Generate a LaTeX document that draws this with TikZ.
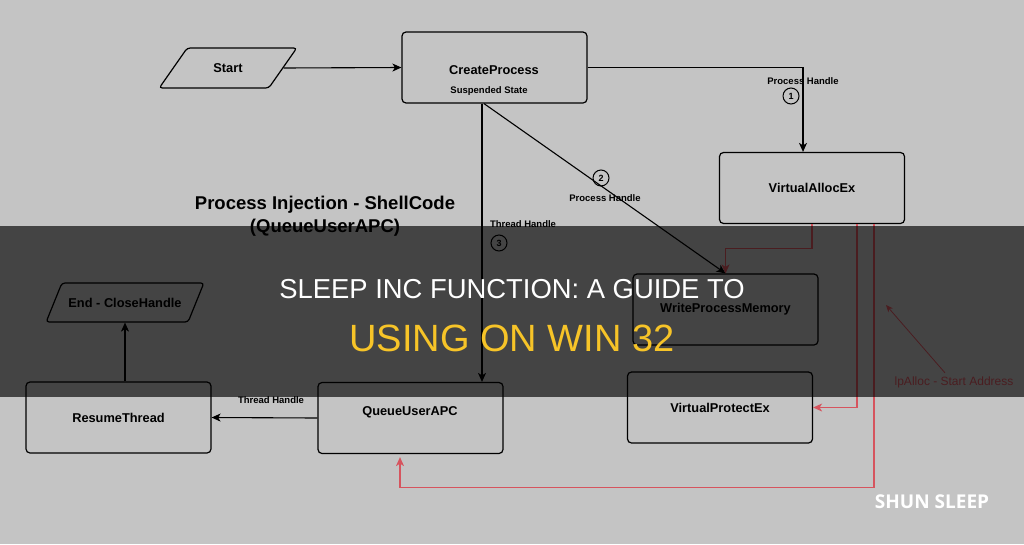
\documentclass[tikz,border=0pt]{standalone}
\usepackage{fontspec}
\setmainfont{Liberation Sans}
\newfontfamily\wmfont{Open Sans}
\usepackage{tikz}
\usetikzlibrary{shapes.geometric,arrows.meta}
\tikzset{>={Stealth[length=9pt,width=8pt,inset=2.5pt]}}
\definecolor{bggray}{RGB}{196,196,196}
\definecolor{lnred}{RGB}{214,84,94}
\definecolor{ttlyellow}{RGB}{247,196,40}
\tikzset{
  boxtext/.style={font=\fontsize{12.8}{15}\selectfont\bfseries},
  fbox/.style={draw, line width=1.2pt, rounded corners=4pt, minimum width=185pt,
    minimum height=71pt, boxtext},
  io/.style={draw, line width=1.2pt, trapezium, trapezium stretches=true,
    rounded corners=3pt, boxtext},
  conn/.style={line width=1.1pt, ->},
  redconn/.style={lnred, line width=1.1pt, ->},
  hlabel/.style={font=\fontsize{9.5}{11}\selectfont\bfseries, inner sep=1pt},
  num/.style={circle, draw, line width=1pt, minimum size=16pt, inner sep=0pt,
    font=\fontsize{9}{10}\selectfont\bfseries},
}

\begin{document}
\begin{tikzpicture}[x=1pt,y=-1pt]
    \fill[bggray] (0,0) rectangle (1024,544);
    \useasboundingbox (0,0) rectangle (1024,544);

    \node[io, minimum width=138pt, minimum height=40pt, trapezium left angle=52,
      trapezium right angle=128] (start) at (228,68) {Start};
    \node[fbox] (cp) at (494.5,67.5) {};
    \node[boxtext] (cptxt) at (494,70) {CreateProcess};
    \node[hlabel] (cpsub) at (489,91) {Suspended State};
    \node[fbox] (vae) at (812,188) {VirtualAllocEx};
    \node[fbox] (wpm) at (725.5,309.5) {WriteProcessMemory};
    \node[fbox] (vpe) at (720,407.5) {VirtualProtectEx};
    \node[fbox] (qapc) at (410.5,418) {};
    \node[boxtext] (qapctxt) at (410,412) {QueueUserAPC};
    \node[fbox] (rt) at (118.5,417.5) {ResumeThread};
    \node[io, minimum width=158pt, minimum height=39pt, trapezium left angle=47,
      trapezium right angle=133] (end) at (125,302.5) {End - CloseHandle};

    \node[align=center, font=\fontsize{18.5}{23}\selectfont\bfseries] (ttl) at (325,216)
      {Process Injection - ShellCode\\(QueueUserAPC)};

    \draw[conn] (start.east) -- (cp.west);
    \draw[conn] (cp.east) -| ([xshift=-9pt]vae.north);
    \draw[conn] ([xshift=-10.5pt]cp.south) -- (wpm.north);
    \draw[conn] ([xshift=-12.5pt]cp.south) -- ([xshift=-12.5pt]cp.south |- qapc.north);
    \draw[conn] (qapc.west) -- (rt.east);
    \draw[conn] ([xshift=6.5pt]rt.north) -- ([xshift=6.5pt]rt.north |- end.south);

    \node[hlabel] (ph1) at (803,81) {Process Handle};
    \node[num] (n1) at (791,96) {1};
    \node[num] (n2) at (601,178) {2};
    \node[hlabel] (ph2) at (605,198) {Process Handle};
    \node[hlabel] (th3) at (523,224) {Thread Handle};
    \node[num] (n3) at (499,243) {3};
    \node[hlabel] (th4) at (271,400) {Thread Handle};

    \draw[redconn] (vae.south) -- ++(0,24) -| (wpm.north);
    \draw[redconn] ([xshift=45pt]vae.south) |- (vpe.east);
    \draw[redconn, shorten >=3pt] ([xshift=62pt]vae.south) -- ++(0,263) -| ([xshift=-10.5pt]qapc.south);

    \node[lnred, font=\fontsize{12}{14}\selectfont] (lpa) at (954,382) {lpAlloc - Start Address};
    \coordinate (lpatip) at (886,305);
    \draw[lnred, line width=0.8pt, -{Stealth[length=7pt,width=6pt,inset=2pt]}]
      ([xshift=-9pt]lpa.north) -- (lpatip);

    \fill[black, opacity=0.65] (0,226) rectangle (1024,397);
    \node[white, anchor=base, font=\fontsize{27.4}{30}\selectfont] (head1) at (512,298)
      {SLEEP INC FUNCTION: A GUIDE TO};
    \node[ttlyellow, anchor=base, font=\fontsize{38}{42}\selectfont] (head2) at (512,351)
      {USING ON WIN 32};
    \node[white, anchor=base, font=\wmfont\fontsize{19}{21}\selectfont\bfseries] (wm) at (932,508)
      {SHUN SLEEP};
\end{tikzpicture}
\end{document}
